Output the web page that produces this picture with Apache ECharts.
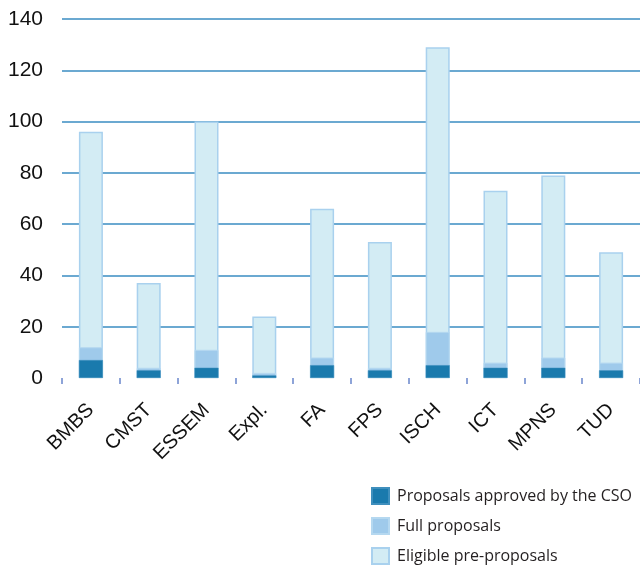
<!DOCTYPE html>
<html>
<head>
<meta charset="utf-8">
<script src="https://cdn.jsdelivr.net/npm/echarts@6/dist/echarts.min.js"></script>
<style>
  html, body { margin: 0; padding: 0; background: #fff; }
  #chart { width: 640px; height: 565px; }
</style>
</head>
<body>
<div id="chart"></div>
<script>
// Proposals per domain
const categories = ['BMBS', 'CMST', 'ESSEM', 'Expl.', 'FA', 'FPS', 'ISCH', 'ICT', 'MPNS', 'TUD'];
const eligiblePreProposals = [96, 37, 100, 24, 66, 53, 129, 73, 79, 49];
const fullProposals = [12, 4, 11, 2, 8, 4, 18, 6, 8, 6];
const approvedByCSO = [7, 3, 4, 1, 5, 3, 5, 4, 4, 3];
const yTicks = { min: 0, max: 140, interval: 20 };

const chart = echarts.init(document.getElementById('chart'), null, { renderer: 'canvas' });

const labelFont = '"Liberation Sans", Arial, sans-serif';

chart.setOption({
  animation: false,
  grid: { left: 62, top: 19, width: 581, bottom: 187, containLabel: false },
  legend: {
    orient: 'vertical',
    left: 371,
    top: 487,
    height: 120,
    padding: 0,
    icon: 'rect',
    itemWidth: 17,
    itemHeight: 16,
    itemGap: 12,
    data: ['Proposals approved by the CSO', 'Full proposals', 'Eligible pre-proposals'],
    textStyle: { fontFamily: 'Open Sans', fontSize: 16, lineHeight: 16, color: '#231f20', padding: [0, 0, 0, 3] }
  },
  xAxis: {
    type: 'category',
    data: categories,
    axisLine: { show: true, onZero: false, lineStyle: { color: '#ffffff', width: 0.5 } },
    axisTick: { show: true, inside: false, length: 6, lineStyle: { color: '#6a86cc', width: 1.5 } },
    axisLabel: { rotate: 45, margin: 29, fontSize: 20, color: '#111', fontFamily: labelFont }
  },
  yAxis: {
    type: 'value',
    min: yTicks.min,
    max: yTicks.max,
    interval: yTicks.interval,
    axisLine: { show: false },
    axisTick: { show: false },
    axisLabel: { margin: 19, fontSize: 21, color: '#111', fontFamily: labelFont },
    splitLine: { show: true, showMinLine: false, lineStyle: { color: '#3a8dc2', width: 1.6 } }
  },
  series: [
    {
      name: 'Eligible pre-proposals',
      type: 'bar',
      data: eligiblePreProposals,
      barWidth: 24,
      barGap: '-100%',
      itemStyle: { color: '#d3ecf4', borderColor: '#a9d1ee', borderWidth: 1.5 },
      z: 2
    },
    {
      name: 'Full proposals',
      type: 'bar',
      data: fullProposals,
      barWidth: 24,
      barGap: '-100%',
      itemStyle: { color: '#9fcaeb', borderColor: '#b5d8f0', borderWidth: 1 },
      z: 3
    },
    {
      name: 'Proposals approved by the CSO',
      type: 'bar',
      data: approvedByCSO,
      barWidth: 24,
      barGap: '-100%',
      itemStyle: { color: '#1a7aad', borderColor: '#3f8fbd', borderWidth: 0.5 },
      z: 4
    }
  ]
});
</script>
</body>
</html>
